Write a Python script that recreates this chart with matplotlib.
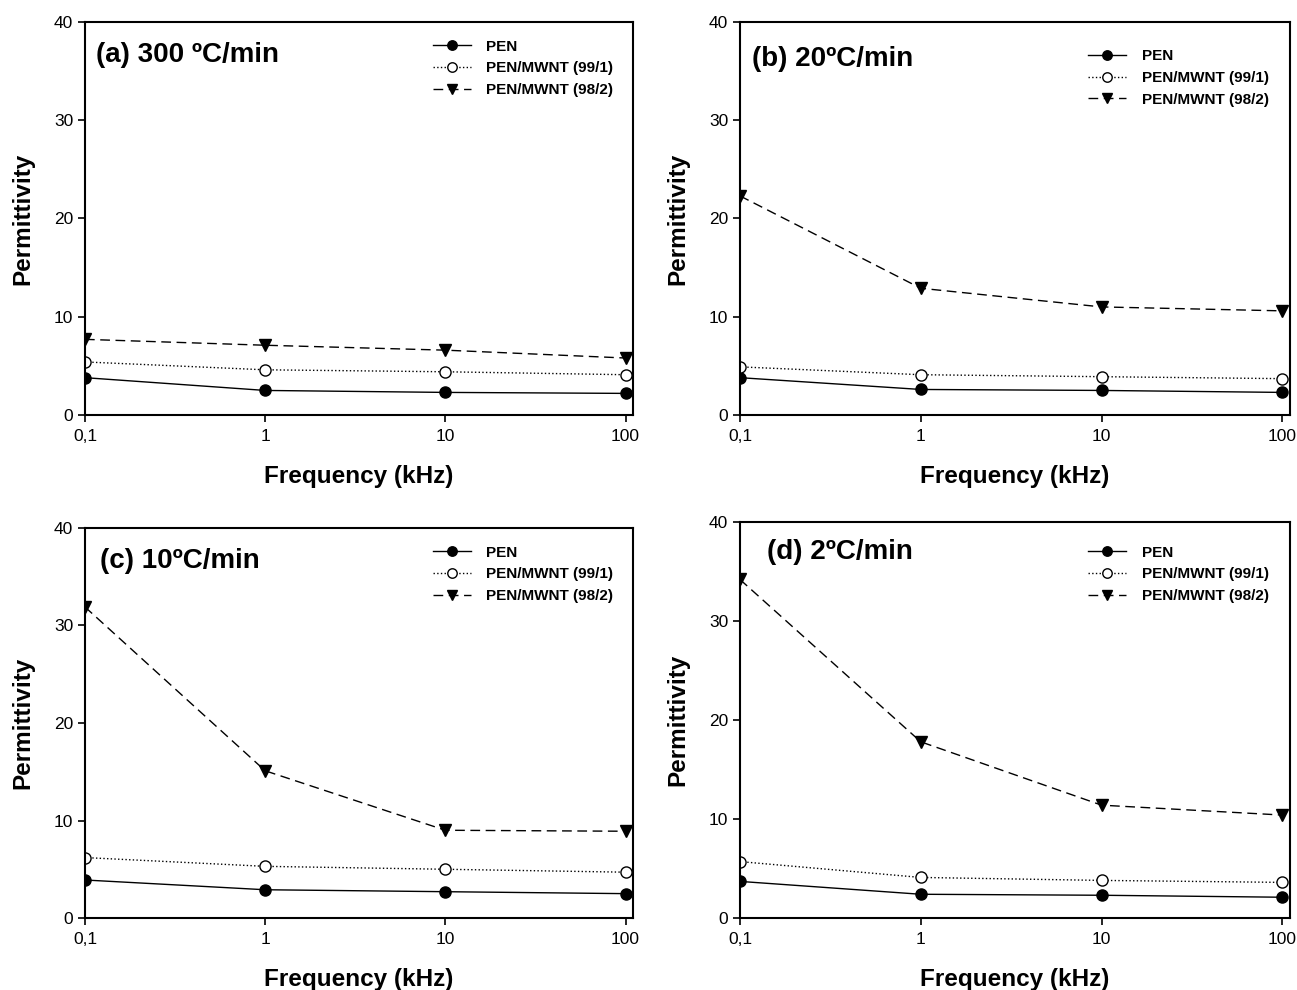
"""Permittivity vs frequency for PEN and PEN/MWNT at four cooling rates"""

import matplotlib.pyplot as plt
from matplotlib.ticker import NullLocator

plt.rcParams["font.family"] = ["Liberation Sans", "DejaVu Sans"]

# frequencies (kHz)
freq = [0.1, 1, 10, 100]
freq_labels = ["0,1", "1", "10", "100"]

# (a) 300 ºC/min
pen_a = [3.8, 2.5, 2.3, 2.2]
mwnt1_a = [5.4, 4.6, 4.4, 4.1]
mwnt2_a = [7.7, 7.1, 6.6, 5.8]

# (b) 20ºC/min
pen_b = [3.8, 2.6, 2.5, 2.3]
mwnt1_b = [4.9, 4.1, 3.9, 3.7]
mwnt2_b = [22.3, 12.9, 11.0, 10.6]

# (c) 10ºC/min
pen_c = [3.9, 2.9, 2.7, 2.5]
mwnt1_c = [6.2, 5.3, 5.0, 4.7]
mwnt2_c = [31.9, 15.1, 9.0, 8.9]

# (d) 2ºC/min
pen_d = [3.7, 2.4, 2.3, 2.1]
mwnt1_d = [5.7, 4.1, 3.8, 3.6]
mwnt2_d = [34.2, 17.8, 11.4, 10.4]

titles = ["(a) 300 ºC/min", "(b) 20ºC/min", "(c) 10ºC/min", "(d) 2ºC/min"]
series_names = ["PEN", "PEN/MWNT (99/1)", "PEN/MWNT (98/2)"]

panels = [
    (pen_a, mwnt1_a, mwnt2_a),
    (pen_b, mwnt1_b, mwnt2_b),
    (pen_c, mwnt1_c, mwnt2_c),
    (pen_d, mwnt1_d, mwnt2_d),
]

# axes rectangles in figure fraction (left, bottom, width, height)
rects = [
    [0.0655, 0.5808, 0.4226, 0.3970],
    [0.5705, 0.5808, 0.4240, 0.3970],
    [0.0655, 0.0727, 0.4226, 0.3940],
    [0.5705, 0.0727, 0.4240, 0.4000],
]
# title / legend anchor positions in axes fraction
title_pos = [(0.02, 0.915), (0.022, 0.905), (0.028, 0.915), (0.05, 0.925)]
legend_pos = [(0.609, 0.99), (0.608, 0.965), (0.609, 0.99), (0.608, 0.975)]

fig = plt.figure(figsize=(12.97, 9.9), dpi=100)

for i, (pen, m1, m2) in enumerate(panels):
    ax = fig.add_axes(rects[i])
    ax.plot(freq, pen, "k-", marker="o", ms=8, mfc="black", lw=1.0, label=series_names[0])
    ax.plot(freq, m1, color="black", ls=":", marker="o", ms=8, mfc="white", lw=1.0,
            label=series_names[1])
    ax.plot(freq, m2, color="black", ls=(0, (7, 4)), marker="v", ms=8, mfc="black", lw=1.0,
            label=series_names[2])

    ax.set_xscale("log")
    ax.set_xlim(0.1, 110)
    ax.set_ylim(0, 40)
    ax.set_xticks(freq, freq_labels)
    ax.xaxis.set_minor_locator(NullLocator())
    ax.set_yticks([0, 10, 20, 30, 40])
    ax.tick_params(direction="out", length=5, width=1.2, labelsize=12.5)
    ax.tick_params(axis="x", pad=5)
    for s in ax.spines.values():
        s.set_linewidth(1.5)

    ax.set_xlabel("Frequency (kHz)", fontsize=17.5, fontweight="bold", labelpad=15)
    ax.set_ylabel("Permittivity", fontsize=17.5, fontweight="bold", labelpad=14)

    ax.text(title_pos[i][0], title_pos[i][1], titles[i], transform=ax.transAxes,
            fontsize=20, fontweight="bold", va="center", ha="left")

    ax.legend(loc="upper left", bbox_to_anchor=legend_pos[i], frameon=False,
              numpoints=1, handlelength=2.5, handletextpad=1.0, labelspacing=0.5,
              prop={"size": 11, "weight": "bold"}, markerscale=0.85)

fig.savefig("out.png", dpi=100)
